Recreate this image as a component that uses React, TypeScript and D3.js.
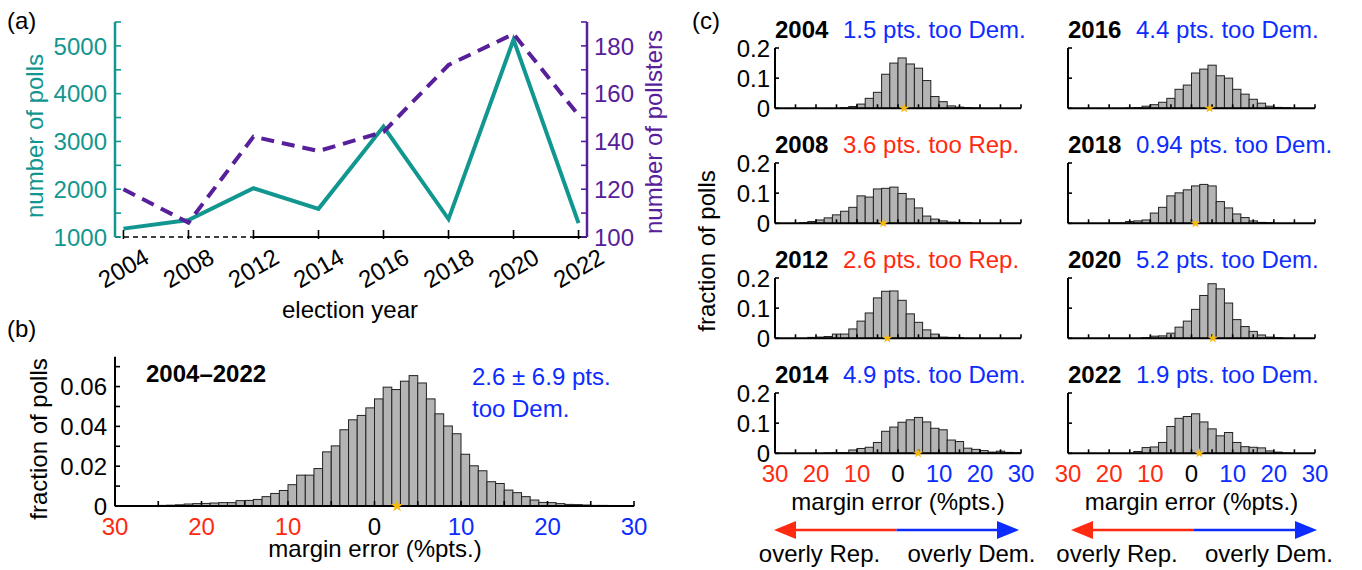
import React from 'react';
import * as d3 from 'd3';

// ---------- Data ----------
const years = ['2004', '2008', '2012', '2014', '2016', '2018', '2020', '2022'];
const numPolls = [1175, 1355, 2020, 1590, 3310, 1375, 5130, 1290];
const numPollsters = [120, 106, 142, 136, 144, 172, 185, 151];
const pollTicks = [1000, 2000, 3000, 4000, 5000];
const pollsterTicks = [100, 120, 140, 160, 180];

// panel (b): all-years histogram, 1-pt bins starting at -30
const allStart = -30;
const allFrac = [
  0.0001, 0.0001, 0.0001, 0.0002, 0.0002, 0.0003, 0.0004, 0.0006, 0.001, 0.0012,
  0.0013, 0.0015, 0.0017, 0.0017, 0.0027, 0.0028, 0.0033, 0.0047, 0.0063, 0.0078,
  0.0107, 0.0155, 0.0155, 0.0188, 0.0272, 0.0302, 0.0383, 0.0433, 0.0455, 0.0493,
  0.0538, 0.0597, 0.0585, 0.0627, 0.0655, 0.0618, 0.0538, 0.0463, 0.0402, 0.0363,
  0.026, 0.0202, 0.0177, 0.0122, 0.0113, 0.008, 0.0067, 0.0047, 0.003, 0.0018,
  0.0017, 0.0012, 0.0008, 0.0007, 0.0005, 0.0003, 0.0003, 0.0002, 0.0002, 0.0001,
];
const allMean = 2.6;
const allSd = 6.9;
const marginTicks = [-30, -20, -10, 0, 10, 20, 30];

// panel (c): per-year histograms, 2-pt bins
const hist2004 = [0.002, 0.006, 0.014, 0.033, 0.053, 0.113, 0.15, 0.167, 0.147, 0.133, 0.092, 0.039, 0.022, 0.008, 0.004, 0.002, 0.001];
const hist2008 = [0.002, 0.006, 0.011, 0.018, 0.028, 0.04, 0.053, 0.091, 0.087, 0.114, 0.116, 0.12, 0.099, 0.081, 0.051, 0.024, 0.014, 0.008, 0.004, 0.003, 0.002];
const hist2012 = [0.003, 0.004, 0.006, 0.014, 0.014, 0.031, 0.057, 0.084, 0.134, 0.156, 0.157, 0.126, 0.081, 0.053, 0.028, 0.014, 0.004, 0.003, 0.002];
const hist2014 = [0.001, 0.002, 0.002, 0.011, 0.016, 0.02, 0.036, 0.073, 0.087, 0.103, 0.111, 0.119, 0.104, 0.083, 0.078, 0.044, 0.039, 0.017, 0.013, 0.009, 0.004, 0.007, 0.003, 0.002];
const hist2016 = [0.001, 0.002, 0.007, 0.012, 0.02, 0.033, 0.063, 0.077, 0.117, 0.13, 0.143, 0.108, 0.1, 0.063, 0.047, 0.03, 0.017, 0.007, 0.003, 0.002];
const hist2018 = [0.001, 0.001, 0.006, 0.008, 0.011, 0.034, 0.053, 0.091, 0.101, 0.111, 0.124, 0.129, 0.124, 0.072, 0.051, 0.031, 0.019, 0.008, 0.003, 0.002];
const hist2020 = [0.002, 0.007, 0.008, 0.017, 0.037, 0.057, 0.096, 0.142, 0.181, 0.164, 0.117, 0.062, 0.039, 0.023, 0.011, 0.004, 0.002];
const hist2022 = [0.006, 0.019, 0.021, 0.036, 0.089, 0.116, 0.122, 0.131, 0.104, 0.081, 0.058, 0.069, 0.036, 0.022, 0.02, 0.018, 0.008, 0.004, 0.001];
const histStarts = [-14, -24, -22, -18, -16, -20, -12, -14];
const histYears = ['2004', '2008', '2012', '2014', '2016', '2018', '2020', '2022'];
const histData = [hist2004, hist2008, hist2012, hist2014, hist2016, hist2018, hist2020, hist2022];
const yearBias = [1.5, -3.6, -2.6, 4.9, 4.4, 0.94, 5.2, 1.9]; // + = too Dem., - = too Rep.
const fracTicksC = [0, 0.1, 0.2];

// ---------- Style ----------
const FONT = '"Liberation Sans", Arial, Helvetica, sans-serif';
const RED = '#ff2a0f';
const BLUE = '#0d2cff';
const TEAL = '#129690';
const PURPLE = '#57209a';
const BAR = '#b4b4b4';
const STARC = '#f6b80a';
const FS = 24;

const signColor = (v: number) => (v < 0 ? RED : v > 0 ? BLUE : '#000');

function Star({ x, y, size }: { x: number; y: number; size: number }) {
  const p = d3.symbol().type(d3.symbolStar).size(size)() as string;
  return <path d={p} transform={`translate(${x},${y})`} fill={STARC} />;
}

function PanelA() {
  const x = d3.scalePoint<string>().domain(years).range([115, 587]).padding(0.13);
  const yL = d3.scaleLinear().domain([1000, 5500]).range([237, 22]);
  const yR = d3.scaleLinear().domain([100, 190]).range([237, 22]);
  const lineL = d3
    .line<number>()
    .x((_, i) => x(years[i]) as number)
    .y((d) => yL(d));
  const lineR = d3
    .line<number>()
    .x((_, i) => x(years[i]) as number)
    .y((d) => yR(d));
  const minorL = d3.range(1000, 5501, 500);
  const minorR = d3.range(100, 191, 10);
  const y0 = yL(1000);
  const xBreak = x('2012') as number;
  return (
    <g>
      <text x={7} y={29} fontSize={FS}>(a)</text>
      <path d={lineL(numPolls) as string} fill="none" stroke={TEAL} strokeWidth={4} strokeLinejoin="miter" />
      <path d={lineR(numPollsters) as string} fill="none" stroke={PURPLE} strokeWidth={4} strokeDasharray="13,8" />
      {/* bottom axis */}
      <line x1={115} x2={xBreak} y1={y0} y2={y0} stroke="#000" strokeWidth={1.6} strokeDasharray="5,4" />
      <line x1={xBreak} x2={587} y1={y0} y2={y0} stroke="#000" strokeWidth={2} />
      {years.map((yr) => (
        <line key={yr} x1={x(yr)} x2={x(yr)} y1={y0 - 7} y2={y0 + 2} stroke="#000" strokeWidth={1.6} />
      ))}
      {years.map((yr) => (
        <text
          key={yr}
          transform={`translate(${x(yr)},${268}) rotate(-30)`}
          textAnchor="middle"
          dominantBaseline="central"
          fontSize={FS}
        >
          {yr}
        </text>
      ))}
      <text x={350} y={318} textAnchor="middle" fontSize={FS}>election year</text>
      {/* left axis */}
      <line x1={115} x2={115} y1={22} y2={237} stroke={TEAL} strokeWidth={2.5} />
      {minorL.map((v) => (
        <line key={v} x1={115} x2={121} y1={yL(v)} y2={yL(v)} stroke={TEAL} strokeWidth={1.6} />
      ))}
      {pollTicks.map((v) => (
        <text key={v} x={107} y={yL(v)} dy="0.36em" textAnchor="end" fill={TEAL} fontSize={FS}>{v}</text>
      ))}
      <text transform="translate(43,136) rotate(-90)" textAnchor="middle" fill={TEAL} fontSize={FS}>number of polls</text>
      {/* right axis */}
      <line x1={587} x2={587} y1={22} y2={237} stroke={PURPLE} strokeWidth={2.5} />
      {minorR.map((v) => (
        <line key={v} x1={581} x2={587} y1={yR(v)} y2={yR(v)} stroke={PURPLE} strokeWidth={1.6} />
      ))}
      {pollsterTicks.map((v) => (
        <text key={v} x={594} y={yR(v)} dy="0.36em" textAnchor="start" fill={PURPLE} fontSize={FS}>{v}</text>
      ))}
      <text transform="translate(662,132) rotate(-90)" textAnchor="middle" fill={PURPLE} fontSize={FS}>number of pollsters</text>
    </g>
  );
}

function PanelB() {
  const x = d3.scaleLinear().domain([-30, 30]).range([115, 634]);
  const y = d3.scaleLinear().domain([0, 0.075]).range([506, 356.7]);
  const y0 = y(0);
  const bw = x(1) - x(0);
  return (
    <g>
      <text x={7} y={337} fontSize={FS}>(b)</text>
      {allFrac.map((v, i) => (
        <rect
          key={i}
          x={x(allStart + i)}
          width={bw}
          y={y(v)}
          height={y0 - y(v)}
          fill={BAR}
          stroke="#222"
          strokeWidth={1}
        />
      ))}
      <line x1={115} x2={634} y1={y0} y2={y0} stroke="#000" strokeWidth={2} />
      <line x1={115} x2={115} y1={356.7} y2={y0} stroke="#000" strokeWidth={2} />
      {d3.range(-30, 31, 5).map((v) => (
        <line key={v} x1={x(v)} x2={x(v)} y1={y0} y2={y0 - 5} stroke="#000" strokeWidth={1.6} />
      ))}
      {d3.range(0, 0.0751, 0.01).map((v, i) => (
        <line key={i} x1={115} x2={120} y1={y(v)} y2={y(v)} stroke="#000" strokeWidth={1.6} />
      ))}
      {[0, 0.02, 0.04, 0.06].map((v) => (
        <text key={v} x={107} y={y(v)} dy="0.36em" textAnchor="end" fontSize={FS}>{v === 0 ? '0' : v.toFixed(2)}</text>
      ))}
      {marginTicks.map((v) => (
        <text key={v} x={x(v)} y={535} textAnchor="middle" fill={signColor(v)} fontSize={FS}>{Math.abs(v)}</text>
      ))}
      <text x={375} y={557} textAnchor="middle" fontSize={FS}>margin error (%pts.)</text>
      <text transform="translate(47,439) rotate(-90)" textAnchor="middle" fontSize={FS}>fraction of polls</text>
      <text x={146} y={382} fontSize={FS} fontWeight="bold">2004–2022</text>
      <text x={472} y={385} fontSize={FS} fill={allMean > 0 ? BLUE : RED}>{`${allMean} ± ${allSd} pts.`}</text>
      <text x={472} y={417} fontSize={FS} fill={allMean > 0 ? BLUE : RED}>{allMean > 0 ? 'too Dem.' : 'too Rep.'}</text>
      <Star x={x(allMean)} y={y0} size={48} />
    </g>
  );
}

function SmallHist({ idx }: { idx: number }) {
  const col = idx < 4 ? 0 : 1;
  const row = idx % 4;
  const left = col === 0 ? 775 : 1068;
  const right = col === 0 ? 1021 : 1315;
  const zero = 108.3 + row * 115;
  const x = d3.scaleLinear().domain([-30, 30]).range([left, right]);
  const y = d3.scaleLinear().domain([0, 0.2]).range([zero, zero - 60.3]);
  const data = histData[idx];
  const start = histStarts[idx];
  const bw = x(2) - x(0);
  const bias = yearBias[idx];
  const titleY = 38 + row * 115;
  return (
    <g>
      {data.map((v, i) => (
        <rect
          key={i}
          x={x(start + 2 * i)}
          width={bw}
          y={y(v)}
          height={zero - y(v)}
          fill={BAR}
          stroke="#222"
          strokeWidth={1}
        />
      ))}
      <line x1={left} x2={right} y1={zero} y2={zero} stroke="#000" strokeWidth={2} />
      <line x1={left} x2={left} y1={y(0.2)} y2={zero} stroke="#000" strokeWidth={2} />
      {d3.range(-30, 31, 5).map((v) => (
        <line key={v} x1={x(v)} x2={x(v)} y1={zero} y2={zero - 4} stroke="#000" strokeWidth={1.6} />
      ))}
      {fracTicksC.map((v) => (
        <line key={v} x1={left} x2={left + 4} y1={y(v)} y2={y(v)} stroke="#000" strokeWidth={1.6} />
      ))}
      {col === 0 &&
        fracTicksC.map((v) => (
          <text key={v} x={770} y={y(v)} dy="0.36em" textAnchor="end" fontSize={FS}>{v === 0 ? '0' : String(v)}</text>
        ))}
      {row === 3 &&
        marginTicks.map((v) => (
          <text key={v} x={x(v)} y={482} textAnchor="middle" fill={signColor(v)} fontSize={FS}>{Math.abs(v)}</text>
        ))}
      {row === 3 && (
        <text x={(left + right) / 2} y={510} textAnchor="middle" fontSize={FS}>margin error (%pts.)</text>
      )}
      <text x={left} y={titleY} fontSize={FS} fontWeight="bold">{histYears[idx]}</text>
      <text x={left + 68} y={titleY} fontSize={FS} fill={signColor(bias)}>
        {`${Math.abs(bias)} pts. too ${bias > 0 ? 'Dem.' : 'Rep.'}`}
      </text>
      <Star x={x(bias)} y={zero} size={32} />
    </g>
  );
}

function Arrow({ left, right }: { left: number; right: number }) {
  const mid = (left + right) / 2;
  const yA = 530;
  const hl = 22;
  const hh = 9;
  return (
    <g>
      <line x1={left + hl - 2} x2={mid} y1={yA} y2={yA} stroke={RED} strokeWidth={2.5} />
      <line x1={mid} x2={right - hl + 2} y1={yA} y2={yA} stroke={BLUE} strokeWidth={2.5} />
      <path d={`M${left},${yA} L${left + hl},${yA - hh} L${left + hl},${yA + hh} Z`} fill={RED} />
      <path d={`M${right},${yA} L${right - hl},${yA - hh} L${right - hl},${yA + hh} Z`} fill={BLUE} />
      <text x={mid - 77} y={562} textAnchor="middle" fontSize={FS}>overly Rep.</text>
      <text x={mid + 75} y={562} textAnchor="middle" fontSize={FS}>overly Dem.</text>
    </g>
  );
}

function PanelC() {
  return (
    <g>
      <text x={692} y={29} fontSize={FS}>(c)</text>
      <text transform="translate(715,251) rotate(-90)" textAnchor="middle" fontSize={FS}>fraction of polls</text>
      {histData.map((_, i) => (
        <SmallHist key={i} idx={i} />
      ))}
      <Arrow left={774} right={1019} />
      <Arrow left={1071} right={1317} />
    </g>
  );
}

export default function App() {
  return (
    <svg
      width={1362}
      height={570}
      style={{ position: 'absolute', left: 0, top: 0, background: '#fff' }}
      fontFamily={FONT}
    >
      <rect width={1362} height={570} fill="#fff" />
      <PanelA />
      <PanelB />
      <PanelC />
    </svg>
  );
}
